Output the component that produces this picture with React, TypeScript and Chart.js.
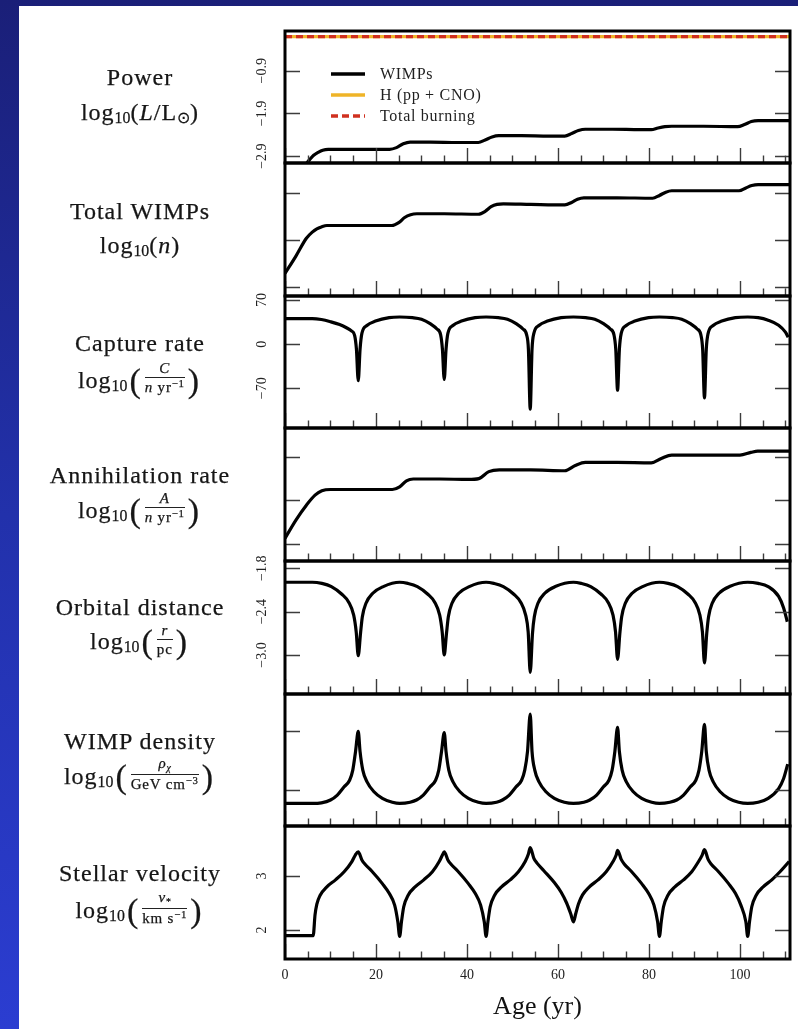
import React, { useEffect, useRef } from "react";
import { Chart, registerables } from "chart.js";

Chart.register(...registerables);

const SERIF = "'Liberation Serif', 'Times New Roman', serif";

// ---------- shared x axis (Age, yr) ----------
const AGE_MIN = 0;
const AGE_MAX = 111;
const ageMajorTicks = [0, 20, 40, 60, 80, 100];
const ageMajorLabels = ["0", "20", "40", "60", "80", "100"];
const ageMinorTicks = [5, 10, 15, 25, 30, 35, 45, 50, 55, 65, 70, 75, 85, 90, 95, 105, 110];

// ---------- panel 1: power ----------
const powerAge = [4.5, 5.5, 6.3, 7.3, 8.3, 9.5, 16, 23, 24.5, 26, 27.5, 32, 38, 42.5, 44, 45.5, 47, 52, 58, 61.5, 63, 64.5, 66, 72, 78, 80.5, 82, 83.5, 85, 92, 99.5, 101, 102.5, 104, 110.8];
const powerWimps = [-3.1, -2.97, -2.88, -2.81, -2.76, -2.74, -2.74, -2.74, -2.7, -2.61, -2.57, -2.57, -2.58, -2.58, -2.52, -2.45, -2.42, -2.42, -2.43, -2.43, -2.37, -2.3, -2.27, -2.27, -2.28, -2.28, -2.24, -2.21, -2.2, -2.2, -2.21, -2.16, -2.09, -2.07, -2.07];
const burnAge = [0, 111];
const powerH = [-0.1, -0.1];
const powerTotal = [-0.1, -0.1];
const powerTicks = [-2.9, -1.9, -0.9];
const powerTickLabels = ["−2.9", "−1.9", "−0.9"];

// ---------- panel 2: total WIMPs ----------
const wimpAge = [0, 2.4, 4.7, 6, 7, 8, 9.2, 16, 23.5, 25, 26.3, 27.6, 29, 35, 42.5, 44, 45.3, 46.6, 48, 54, 61.5, 63, 64.3, 65.7, 73, 80.8, 82.3, 83.7, 85, 92, 99.8, 101.3, 102.6, 104, 110.8];
const wimpCount = [0.29, 0.66, 1.04, 1.17, 1.24, 1.28, 1.31, 1.31, 1.31, 1.37, 1.48, 1.54, 1.56, 1.56, 1.55, 1.61, 1.71, 1.76, 1.77, 1.76, 1.75, 1.8, 1.87, 1.9, 1.9, 1.89, 1.95, 2.02, 2.05, 2.05, 2.05, 2.11, 2.16, 2.18, 2.18];
const wimpTicks = [0, 1, 2];

// ---------- panel 3: capture rate ----------
const capAge = [0, 6, 8, 10, 12, 13.5, 14.6, 15.3, 15.7, 16.1, 16.5, 16.9, 18, 19.9, 22.9, 25.2,
  28, 30, 32, 33.4, 34.2, 34.6, 35.0, 35.4, 35.8, 36.9, 38.8, 41.8, 44.2,
  46.9, 48.9, 50.9, 52.3, 53.1, 53.5, 53.9, 54.3, 54.7, 55.8, 57.7, 60.7, 63.4,
  66.1, 68.1, 70.1, 71.5, 72.3, 72.7, 73.1, 73.5, 73.9, 75, 76.9, 79.9, 82.3,
  85.2, 87.2, 89.2, 90.6, 91.4, 91.8, 92.2, 92.6, 93, 94.1, 96, 99, 101.7,
  104, 106.2, 108.5, 110, 110.6];
const capRate = [40.5, 40.5, 39, 35.5, 31, 26, 21, 14, -8, -58, -8, 17, 29.5, 36.5, 42, 43,
  42, 39.5, 32, 24, 15, -8, -56, -8, 17, 29.5, 36.5, 42, 43,
  42, 39.5, 32, 24, 15, -8, -103, -8, 17, 29.5, 36.5, 42, 43,
  42, 39.5, 32, 24, 15, -8, -73, -8, 17, 29.5, 36.5, 42, 43,
  42, 39.5, 32, 24, 15, -8, -85, -8, 17, 29.5, 36.5, 42, 43,
  42, 38, 30, 19, 11];
const capTicks = [-70, 0, 70];
const capTickLabels = ["−70", "0", "70"];

// ---------- panel 4: annihilation rate ----------
const annAge = [0, 2.4, 4.7, 6.6, 8.1, 10, 17, 23.6, 25.2, 26.7, 28.2, 34, 40.3, 42.6, 44.8, 47.1, 54, 61.5, 63.8, 66, 73, 80.5, 82.7, 85, 92, 100, 102.4, 103.9, 110.8];
const annRate = [0.13, 0.55, 0.89, 1.12, 1.22, 1.25, 1.25, 1.25, 1.31, 1.45, 1.49, 1.49, 1.48, 1.5, 1.66, 1.7, 1.7, 1.68, 1.8, 1.87, 1.87, 1.86, 1.96, 2.04, 2.04, 2.04, 2.1, 2.13, 2.13];
const annTicks = [0, 1, 2];

// ---------- panel 5: orbital distance ----------
const orbAge = [0, 6, 8.1, 10.2, 12.5, 14, 15.1, 15.65, 16.1, 16.6, 17, 17.8, 19.3, 21.6, 25.2,
  27, 29.1, 31.4, 32.9, 34, 34.55, 35, 35.5, 35.9, 36.7, 38.2, 40.5, 44.2,
  45.9, 48, 50.3, 51.8, 52.9, 53.45, 53.9, 54.4, 54.8, 55.6, 57.1, 59.4, 63.4,
  65.1, 67.2, 69.5, 71, 72.1, 72.65, 73.1, 73.6, 74, 74.8, 76.3, 78.6, 82.3,
  84.2, 86.3, 88.6, 90.1, 91.2, 91.75, 92.2, 92.7, 93.1, 93.9, 95.4, 97.7, 101.7,
  104, 106.2, 108.5, 109.6, 110.4];
const orbDist = [-1.994, -1.994, -2.01, -2.054, -2.16, -2.27, -2.45, -2.68, -3.01, -2.7, -2.47, -2.285, -2.146, -2.054, -1.994,
  -2.01, -2.054, -2.16, -2.27, -2.45, -2.68, -3.0, -2.7, -2.47, -2.285, -2.146, -2.054, -1.994,
  -2.01, -2.054, -2.16, -2.27, -2.45, -2.68, -3.24, -2.7, -2.47, -2.285, -2.146, -2.054, -1.994,
  -2.01, -2.054, -2.16, -2.27, -2.45, -2.68, -3.06, -2.7, -2.47, -2.285, -2.146, -2.054, -1.994,
  -2.01, -2.054, -2.16, -2.27, -2.45, -2.68, -3.11, -2.7, -2.47, -2.285, -2.146, -2.054, -1.994,
  -2.01, -2.054, -2.19, -2.35, -2.54];
const orbTicks = [-3.0, -2.4, -1.8];
const orbTickLabels = ["−3.0", "−2.4", "−1.8"];

// ---------- panel 6: WIMP density ----------
const denAge = [0, 6, 8, 10, 11.5, 13, 14.2, 14.9, 15.5, 16.1, 16.5, 17.1, 18, 19.5, 21.4, 23.6, 25.2,
  27.5, 28.9, 30.4, 31.9, 33.1, 33.8, 34.4, 35, 35.4, 36, 36.9, 38.4, 40.3, 42.5, 44.2,
  46.5, 47.8, 49.3, 50.8, 52, 52.7, 53.3, 53.9, 54.3, 54.9, 55.8, 57.3, 59.2, 61.4, 63.4,
  65.7, 67, 68.5, 70, 71.2, 71.9, 72.5, 73.1, 73.5, 74.1, 75, 76.5, 78.4, 80.6, 82.3,
  84.6, 86.1, 87.6, 89.1, 90.3, 91, 91.6, 92.2, 92.6, 93.2, 94.1, 95.6, 97.5, 99.7, 101.7,
  104, 106.2, 108.5, 109.6, 110.5];
const denRho = [-0.22, -0.22, -0.21, -0.163, -0.08, 0.06, 0.17, 0.34, 0.65, 0.99, 0.65, 0.34, 0.146, -0.02, -0.135, -0.2, -0.22,
  -0.2, -0.163, -0.08, 0.06, 0.17, 0.34, 0.65, 0.97, 0.65, 0.34, 0.146, -0.02, -0.135, -0.2, -0.22,
  -0.2, -0.163, -0.08, 0.06, 0.17, 0.34, 0.65, 1.28, 0.65, 0.34, 0.146, -0.02, -0.135, -0.2, -0.22,
  -0.2, -0.163, -0.08, 0.06, 0.17, 0.34, 0.65, 1.06, 0.65, 0.34, 0.146, -0.02, -0.135, -0.2, -0.22,
  -0.2, -0.163, -0.08, 0.06, 0.17, 0.34, 0.65, 1.11, 0.65, 0.34, 0.146, -0.02, -0.135, -0.2, -0.22,
  -0.2, -0.135, 0.03, 0.2, 0.44];
const denTicks = [0, 1];

// ---------- panel 7: stellar velocity ----------
const velAge = [0, 6.2, 6.6, 7.0, 7.7, 9.2, 11.1, 13, 14.7, 15.45, 16.1,
  16.9, 17.6, 19.1, 21.4, 22.9, 24.1, 24.8, 25.2,
  25.6, 26.1, 27.1, 28.6, 30.5, 32.4, 33.9, 34.6, 35.0,
  35.8, 36.5, 38.0, 40.3, 41.8, 43.0, 43.8, 44.2,
  44.6, 45.1, 46.1, 47.6, 49.5, 51.3, 52.8, 53.5, 53.9,
  54.7, 55.4, 56.9, 59.2, 60.7, 61.9, 62.8, 63.4,
  63.9, 64.5, 65.4, 66.9, 68.8, 70.6, 72.1, 72.8, 73.1,
  73.9, 74.6, 76.1, 78.4, 79.9, 81.1, 81.9, 82.3,
  82.7, 83.2, 84.2, 85.7, 87.6, 89.4, 90.9, 91.7, 92.2,
  93.0, 93.7, 95.2, 97.5, 99.0, 100.2, 101.3, 101.7,
  102.1, 102.6, 103.6, 105.1, 107, 108.8, 110.8];
const velKms = [1.895, 1.895, 2.28, 2.48, 2.64, 2.8, 2.93, 3.08, 3.27, 3.39, 3.45,
  3.3, 3.22, 3.09, 2.86, 2.68, 2.46, 2.15, 1.88,
  2.15, 2.43, 2.65, 2.8, 2.93, 3.08, 3.27, 3.39, 3.45,
  3.3, 3.22, 3.09, 2.86, 2.68, 2.46, 2.15, 1.88,
  2.15, 2.43, 2.65, 2.8, 2.93, 3.08, 3.27, 3.41, 3.53,
  3.33, 3.24, 3.1, 2.88, 2.7, 2.5, 2.3, 2.15,
  2.3, 2.48, 2.65, 2.8, 2.93, 3.08, 3.27, 3.39, 3.48,
  3.31, 3.22, 3.09, 2.86, 2.68, 2.46, 2.15, 1.88,
  2.15, 2.43, 2.65, 2.8, 2.93, 3.08, 3.27, 3.39, 3.49,
  3.31, 3.22, 3.09, 2.86, 2.68, 2.46, 2.15, 1.88,
  2.15, 2.43, 2.65, 2.8, 2.93, 3.08, 3.27];
const velTicks = [2, 3];
const velTickLabels = ["2", "3"];

// ---------- layout ----------
const PANEL_EDGES = [31, 163, 296, 428, 561, 694, 826, 959];
const PLOT_LEFT = 285;
const PLOT_RIGHT = 790;
const PAGE_W = 798;
const PAGE_H = 1029;

type Series = { label: string; x: number[]; y: number[]; color: string; dash?: number[]; width?: number; order?: number };
type Panel = { series: Series[]; yMin: number; yMax: number; yTicks: number[]; yTickLabels?: string[]; legend?: boolean };

const BLACK = "#000000";
const ORANGE = "#efb428";
const RED = "#d0301f";

const PANELS: Panel[] = [
  {
    series: [
      { label: "WIMPs", x: powerAge, y: powerWimps, color: BLACK, order: 2 },
      { label: "H (pp + CNO)", x: burnAge, y: powerH, color: ORANGE, order: 1 },
      { label: "Total burning", x: burnAge, y: powerTotal, color: RED, dash: [7, 4], order: 0 },
    ],
    yMin: -3.06, yMax: 0.03, yTicks: powerTicks, yTickLabels: powerTickLabels, legend: true,
  },
  { series: [{ label: "Total WIMPs", x: wimpAge, y: wimpCount, color: BLACK }], yMin: -0.19, yMax: 2.64, yTicks: wimpTicks },
  { series: [{ label: "Capture rate", x: capAge, y: capRate, color: BLACK }], yMin: -132.9, yMax: 76.3, yTicks: capTicks, yTickLabels: capTickLabels },
  { series: [{ label: "Annihilation rate", x: annAge, y: annRate, color: BLACK }], yMin: -0.39, yMax: 2.66, yTicks: annTicks },
  { series: [{ label: "Orbital distance", x: orbAge, y: orbDist, color: BLACK }], yMin: -3.54, yMax: -1.7, yTicks: orbTicks, yTickLabels: orbTickLabels },
  { series: [{ label: "WIMP density", x: denAge, y: denRho, color: BLACK }], yMin: -0.6, yMax: 1.62, yTicks: denTicks },
  { series: [{ label: "Stellar velocity", x: velAge, y: velKms, color: BLACK }], yMin: 1.46, yMax: 3.93, yTicks: velTicks, yTickLabels: velTickLabels },
];

const TICK_FONT_SIZE = 14;

function measureWidest(labels: string[] | undefined): number {
  if (!labels || !labels.length) return 0;
  const c = document.createElement("canvas").getContext("2d");
  if (!c) return 0;
  c.font = `${TICK_FONT_SIZE}px ${SERIF}`;
  return Math.max(...labels.map((l) => c.measureText(l).width));
}

const framePlugin = {
  id: "frameTicks",
  afterDatasetsDraw(chart: any, _args: any, opts: any) {
    const { ctx, chartArea: a } = chart;
    const xs = chart.scales.x;
    const ys = chart.scales.y;
    ctx.save();
    ctx.strokeStyle = "#3c3c3c";
    ctx.lineWidth = 1.4;
    ctx.beginPath();
    for (const v of opts.yTicks as number[]) {
      const p = Math.round(ys.getPixelForValue(v)) + 0.5;
      ctx.moveTo(a.left, p); ctx.lineTo(a.left + 15, p);
      ctx.moveTo(a.right, p); ctx.lineTo(a.right - 15, p);
    }
    for (const v of ageMajorTicks) {
      const p = Math.round(xs.getPixelForValue(v)) + 0.5;
      ctx.moveTo(p, a.bottom); ctx.lineTo(p, a.bottom - 15);
    }
    for (const v of ageMinorTicks) {
      const p = Math.round(xs.getPixelForValue(v)) + 0.5;
      ctx.moveTo(p, a.bottom); ctx.lineTo(p, a.bottom - 7.5);
    }
    ctx.stroke();
    ctx.strokeStyle = "#000";
    ctx.lineWidth = 3;
    ctx.strokeRect(a.left, a.top, a.right - a.left, a.bottom - a.top);
    ctx.restore();
  },
};

const legendPlugin = {
  id: "insideLegend",
  afterDatasetsDraw(chart: any) {
    const { ctx, chartArea: a } = chart;
    const rowOffsets = [43, 64, 85];
    ctx.save();
    ctx.font = `16px ${SERIF}`;
    (ctx as any).letterSpacing = "0.7px";
    ctx.textBaseline = "middle";
    ctx.textAlign = "left";
    chart.data.datasets.forEach((ds: any, i: number) => {
      const y = a.top + rowOffsets[i];
      ctx.beginPath();
      ctx.strokeStyle = ds.borderColor;
      ctx.lineWidth = 3.5;
      ctx.setLineDash(ds.borderDash || []);
      ctx.moveTo(a.left + 46, y);
      ctx.lineTo(a.left + 80, y);
      ctx.stroke();
      ctx.setLineDash([]);
      ctx.fillStyle = "#1e1e1e";
      ctx.fillText(ds.label, a.left + 95, y + 1);
    });
    ctx.restore();
  },
};

function buildConfig(p: Panel, last: boolean): any {
  const widest = measureWidest(p.yTickLabels);
  const labelPad = Math.max(0, 23 - widest / 2);
  return {
    type: "line",
    data: {
      datasets: p.series.map((s) => ({
        label: s.label,
        data: s.x.map((x, i) => ({ x, y: s.y[i] })),
        borderColor: s.color,
        borderWidth: s.width ?? 3.2,
        borderDash: s.dash ?? [],
        order: s.order ?? 0,
        pointRadius: 0,
        fill: false,
        cubicInterpolationMode: "monotone",
        borderJoinStyle: "round",
      })),
    },
    options: {
      animation: false,
      responsive: false,
      maintainAspectRatio: false,
      events: [],
      layout: { autoPadding: false, padding: { top: 10, bottom: last ? 0 : 10, left: 0, right: PAGE_W - PLOT_RIGHT } },
      plugins: {
        legend: { display: false },
        tooltip: { enabled: false },
        frameTicks: { yTicks: p.yTicks },
      },
      scales: {
        x: {
          type: "linear",
          min: AGE_MIN,
          max: AGE_MAX,
          display: last,
          grid: { display: false, drawTicks: false },
          border: { display: false },
          afterBuildTicks: (s: any) => { s.ticks = ageMajorTicks.map((v) => ({ value: v })); },
          ticks: {
            callback: (_v: any, i: number) => ageMajorLabels[i],
            font: { family: SERIF, size: TICK_FONT_SIZE },
            color: "#222",
            padding: 8,
            maxRotation: 0,
            autoSkip: false,
          },
          title: {
            display: true,
            text: "Age (yr)",
            font: { family: SERIF, size: 26 },
            color: "#111",
            padding: { top: 0, bottom: 6 },
          },
          afterFit: (s: any) => {
            if (last) s.height = 70;
            s.paddingLeft = 0; s.paddingRight = 0; s.paddingTop = 0; s.paddingBottom = 0;
          },
        },
        y: {
          type: "linear",
          min: p.yMin,
          max: p.yMax,
          grid: { display: false, drawTicks: false },
          border: { display: false },
          afterBuildTicks: (s: any) => { s.ticks = p.yTicks.map((v) => ({ value: v })); },
          ticks: {
            display: !!p.yTickLabels,
            callback: (_v: any, i: number) => (p.yTickLabels ? p.yTickLabels[i] : ""),
            minRotation: 90,
            maxRotation: 90,
            crossAlign: "center",
            padding: labelPad,
            font: { family: SERIF, size: TICK_FONT_SIZE },
            color: "#222",
            autoSkip: false,
          },
          afterFit: (s: any) => {
            s.width = PLOT_LEFT;
            s.paddingLeft = 0; s.paddingRight = 0; s.paddingTop = 0; s.paddingBottom = 0;
          },
        },
      },
    },
    plugins: p.legend ? [framePlugin, legendPlugin] : [framePlugin],
  };
}

// ---------- left-hand labels (HTML text) ----------
const Sub = ({ children }: any) => (
  <span style={{ fontSize: "0.66em", position: "relative", top: "0.35em", letterSpacing: 0 }}>{children}</span>
);
const Sup = ({ children }: any) => (
  <span style={{ fontSize: "0.72em", position: "relative", top: "-0.45em" }}>{children}</span>
);
const Paren = ({ children }: any) => (
  <span style={{ fontSize: 34, lineHeight: "24px", position: "relative", top: 1, margin: "0 2px" }}>{children}</span>
);
const Frac = ({ num, den }: any) => (
  <span style={{ display: "inline-block", verticalAlign: "middle", textAlign: "center", fontSize: 15, lineHeight: "16px", letterSpacing: 0.8, margin: "0 1px", position: "relative", top: -2 }}>
    <span style={{ display: "block", borderBottom: "1.2px solid #222", padding: "0 2px 1px" }}>{num}</span>
    <span style={{ display: "block", paddingTop: 1 }}>{den}</span>
  </span>
);

const labelTitles = ["Power", "Total WIMPs", "Capture rate", "Annihilation rate", "Orbital distance", "WIMP density", "Stellar velocity"];
const titleCenters = [77, 211, 343, 475, 607, 741, 873];
const formulaCenters = [112, 245, 380, 510, 641, 776, 910];

const LOG = (
  <>
    log<Sub>10</Sub>
  </>
);

const formulas = [
  <>{LOG}(<i>L</i>/L<Sub>⊙</Sub>)</>,
  <>{LOG}(<i>n</i>)</>,
  <>{LOG}<Paren>(</Paren><Frac num={<i>C</i>} den={<><i>n</i> yr<Sup>−1</Sup></>} /><Paren>)</Paren></>,
  <>{LOG}<Paren>(</Paren><Frac num={<i>A</i>} den={<><i>n</i> yr<Sup>−1</Sup></>} /><Paren>)</Paren></>,
  <>{LOG}<Paren>(</Paren><Frac num={<i>r</i>} den={<>pc</>} /><Paren>)</Paren></>,
  <>{LOG}<Paren>(</Paren><Frac num={<><i>ρ</i><Sub><i>χ</i></Sub></>} den={<>GeV cm<Sup>−3</Sup></>} /><Paren>)</Paren></>,
  <>{LOG}<Paren>(</Paren><Frac num={<><i>v</i><Sub>*</Sub></>} den={<>km s<Sup>−1</Sup></>} /><Paren>)</Paren></>,
];

const lineBox = (center: number, h: number): React.CSSProperties => ({
  position: "absolute",
  left: 20,
  width: 240,
  top: center - h / 2,
  height: h,
  display: "flex",
  alignItems: "center",
  justifyContent: "center",
  fontFamily: SERIF,
  color: "#161616",
  fontSize: 24,
  letterSpacing: 1,
  whiteSpace: "nowrap",
  WebkitTextStroke: "0.25px #161616",
});

export default function App() {
  const refs = useRef<(HTMLCanvasElement | null)[]>([]);

  useEffect(() => {
    const charts = PANELS.map((p, i) => new Chart(refs.current[i] as HTMLCanvasElement, buildConfig(p, i === PANELS.length - 1)));
    return () => charts.forEach((c) => c.destroy());
  }, []);

  return (
    <div
      style={{
        position: "absolute",
        left: 0,
        top: 0,
        width: PAGE_W,
        height: PAGE_H,
        overflow: "hidden",
        background: "linear-gradient(180deg, #1a1f78 0%, #2231ab 50%, #2b3dd1 100%)",
      }}
    >
      <div style={{ position: "absolute", left: 19, top: 6, right: 0, bottom: 0, background: "#ffffff" }} />
      {PANELS.map((_, i) => {
        const last = i === PANELS.length - 1;
        const top = PANEL_EDGES[i] - 10;
        const h = last ? PAGE_H - top : PANEL_EDGES[i + 1] - PANEL_EDGES[i] + 20;
        return (
          <canvas
            key={i}
            ref={(el) => { refs.current[i] = el; }}
            width={PAGE_W}
            height={h}
            style={{ position: "absolute", left: 0, top, width: PAGE_W, height: h }}
          />
        );
      })}
      {labelTitles.map((t, i) => (
        <div key={"t" + i} style={lineBox(titleCenters[i], 30)}>{t}</div>
      ))}
      {formulas.map((f, i) => (
        <div key={"f" + i} style={lineBox(formulaCenters[i], 40)}>{f}</div>
      ))}
    </div>
  );
}
